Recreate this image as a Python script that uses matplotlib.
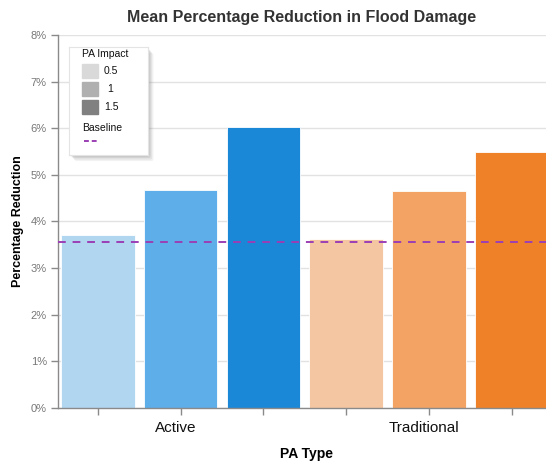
import matplotlib.pyplot as plt
import matplotlib.patches as mpatches
from matplotlib.ticker import PercentFormatter
import numpy as np

plt.rcParams['font.family'] = ['Liberation Sans', 'DejaVu Sans']

pa_types = ['Active', 'Traditional']
impacts = ['0.5', '1', '1.5']
active_vals = [3.71, 4.67, 6.02]
traditional_vals = [3.62, 4.66, 5.49]
baseline = 3.55

blues = ['#b0d6f0', '#5eaeea', '#1b87d7']
oranges = ['#f4c6a1', '#f3a465', '#ef8129']
legend_greys = ['#d9d9d9', '#b0b0b0', '#808080']

fig = plt.figure(figsize=(5.46, 4.66), dpi=100)
ax = fig.add_axes([0.106, 0.1245, 0.894, 0.8005])

vals = active_vals + traditional_vals
colors = blues + oranges
x = np.arange(len(vals))
ax.bar(x, vals, width=0.89, color=colors, edgecolor='white', linewidth=0.6, zorder=2)
ax.axhline(baseline, color='#9b3fb5', linestyle=(0, (4, 3.5)), linewidth=1.4, zorder=3)

ax.set_xlim(-0.48, 5.41)
ax.set_ylim(0, 8)
ax.set_yticks(range(0, 9))
ax.yaxis.set_major_formatter(PercentFormatter(decimals=0))
ax.set_xticks(x)
ax.set_xticklabels([])
ax.tick_params(axis='both', colors='#8a8a8a', length=5, width=1)
ax.tick_params(axis='y', labelcolor='#777777', labelsize=8, pad=3)
ax.grid(axis='y', color='#e2e2e2', linewidth=1, zorder=0)
ax.set_axisbelow(True)
for side in ['top', 'right']:
    ax.spines[side].set_visible(False)
for side in ['left', 'bottom']:
    ax.spines[side].set_color('#8a8a8a')
    ax.spines[side].set_linewidth(1)

# group labels under the middle bar of each group
for i, name in enumerate(pa_types):
    ax.text(i * 3 + 0.94, -0.28, name, ha='center', va='top', fontsize=11,
            color='#111111', transform=ax.transData)

ax.set_xlabel('PA Type', fontsize=10, fontweight='bold')
ax.xaxis.set_label_coords(0.51, -0.105)
ax.set_ylabel('Percentage Reduction', fontsize=9, fontweight='bold')
ax.yaxis.set_label_coords(-0.07, 0.5)
ax.set_title('Mean Percentage Reduction in Flood Damage', fontsize=11.5,
             fontweight='bold', color='#333333', pad=9)

# legend box with drop shadow
lx, ly, lw, lh = 69 / 546, 1 - 155 / 466, 79 / 546, 108 / 466
for k, a in enumerate([0.10, 0.14, 0.18, 0.22]):
    off = 0.0025 * (4 - k)
    shadow = mpatches.FancyBboxPatch((lx + off, ly - off * 1.3), lw, lh,
                                     boxstyle='round,pad=0,rounding_size=0.004',
                                     transform=fig.transFigure, facecolor='#888888',
                                     edgecolor='none', alpha=a, zorder=4)
    fig.patches.append(shadow)
leg = fig.add_axes([lx, ly, lw, lh], zorder=5)
leg.set_xlim(0, 79)
leg.set_ylim(108, 0)
leg.set_xticks([])
leg.set_yticks([])
for s in leg.spines.values():
    s.set_color('#e4e4e4')
leg.text(13, 7, 'PA Impact', fontsize=7.5, va='center', ha='left', color='#111111')
for i, (lab, c) in enumerate(zip(impacts, legend_greys)):
    yc = 24 + i * 18
    leg.add_patch(mpatches.Rectangle((13, yc - 7), 16, 14, color=c))
    leg.text(35 if lab != '1' else 38, yc, lab, fontsize=7.5, va='center', ha='left', color='#111111')
leg.text(13, 81, 'Baseline', fontsize=7.5, va='center', ha='left', color='#111111')
leg.plot([15, 30], [94, 94], color='#9b3fb5', linestyle=(0, (2.5, 1.5)), linewidth=1.4)

fig.savefig('out.png', dpi=100)
